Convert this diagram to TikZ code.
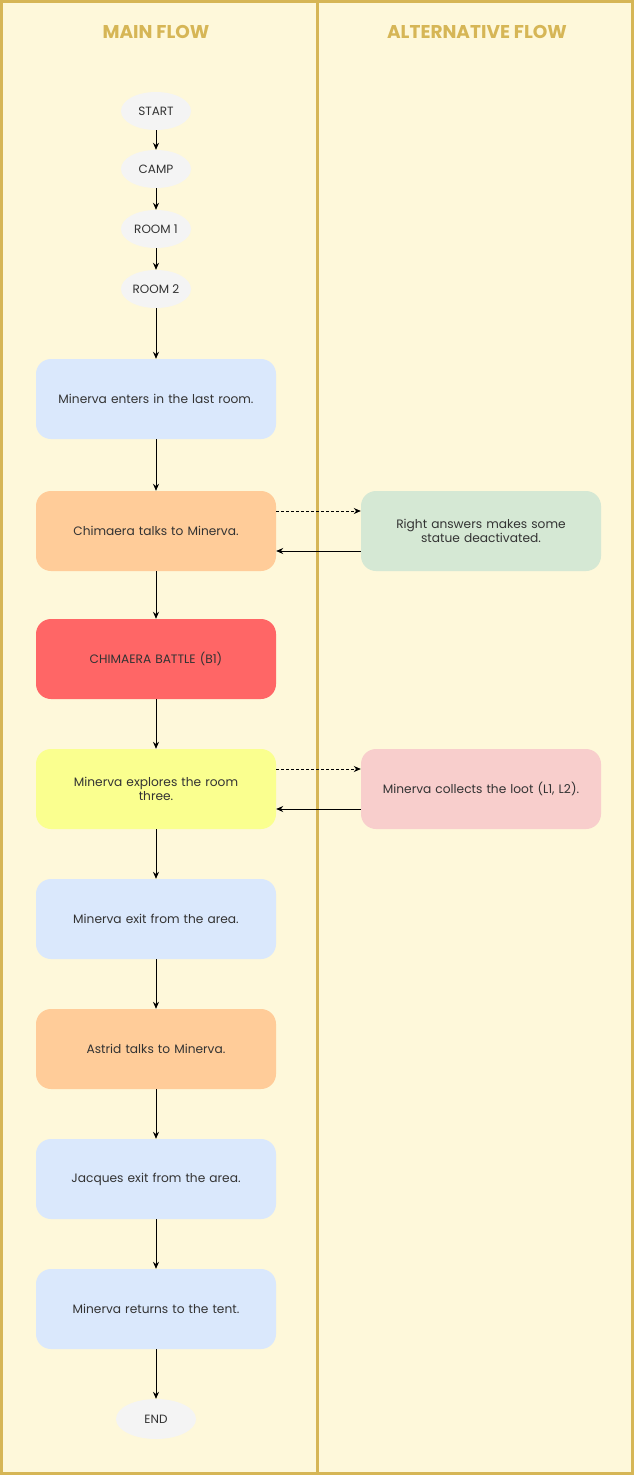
\documentclass[tikz,border=0pt]{standalone}
\usepackage{fontspec}
\setmainfont{Poppins}
\usetikzlibrary{arrows.meta,shapes.geometric}
\definecolor{lanefill}{HTML}{FEF8DA}
\definecolor{lanestroke}{HTML}{D6B656}
\definecolor{cblue}{HTML}{DAE8FC}
\definecolor{corange}{HTML}{FFCC99}
\definecolor{cred}{HTML}{FF6666}
\definecolor{cyellow}{HTML}{FAFF8F}
\definecolor{cgreen}{HTML}{D5E8D4}
\definecolor{cpink}{HTML}{F8CECC}
\definecolor{cgray}{HTML}{F4F4F4}
\definecolor{txt}{HTML}{333333}
\tikzset{
  x=1pt,y=-1pt,
  term/.style={ellipse,fill=cgray,draw=none,minimum width=70pt,minimum height=38pt,inner sep=0pt,font=\fontsize{12}{14}\selectfont,text=txt},
  box/.style={rectangle,rounded corners=15pt,draw=none,minimum width=240pt,minimum height=80pt,text width=226pt,align=center,font=\fontsize{12.2}{13.5}\selectfont,text=txt},
  arr/.style={-{Stealth[length=7pt,width=6pt]},line width=0.8pt,black},
  dash arr/.style={arr,dash pattern=on 2.5pt off 2.5pt},
  lanehead/.style={font=\fontsize{18.5}{22}\selectfont\bfseries,text=lanestroke}
}
\begin{document}
\begin{tikzpicture}
\useasboundingbox (0,0) rectangle (634,1475);
\fill[lanefill] (0,0) rectangle (634,1475);
\draw[lanestroke,line width=3pt] (1.5,1.5) rectangle (632.5,1473.5);
\draw[lanestroke,line width=3pt] (317,1.5) -- (317,1473.5);
\node[lanehead] (h1) at (156,32) {MAIN FLOW};
\node[lanehead] (h2) at (477,32) {ALTERNATIVE FLOW};

\node[term] (start) at (156,111) {START};
\node[term] (camp) at (156,169) {CAMP};
\node[term] (r1) at (156,229) {ROOM 1};
\node[term] (r2) at (156,289) {ROOM 2};

\node[box,fill=cblue] (b1) at (156,399) {Minerva enters in the last room.};
\node[box,fill=corange] (b2) at (156,531) {Chimaera talks to Minerva.};
\node[box,fill=cred] (b3) at (156,659) {CHIMAERA BATTLE (B1)};
\node[box,fill=cyellow] (b4) at (156,789) {Minerva explores the room\\three.};
\node[box,fill=cblue] (b5) at (156,919) {Minerva exit from the area.};
\node[box,fill=corange] (b6) at (156,1049) {Astrid talks to Minerva.};
\node[box,fill=cblue] (b7) at (156,1179) {Jacques exit from the area.};
\node[box,fill=cblue] (b8) at (156,1309) {Minerva returns to the tent.};
\node[term,minimum width=80pt,minimum height=40pt] (end) at (156,1419) {END};

\node[box,fill=cgreen] (a1) at (481,531) {Right answers makes some\\statue deactivated.};
\node[box,fill=cpink] (a2) at (481,789) {Minerva collects the loot (L1, L2).};

\draw[arr] (start) -- (camp);
\draw[arr] (camp) -- (r1);
\draw[arr] (r1) -- (r2);
\draw[arr] (r2) -- (b1);
\draw[arr] (b1) -- (b2);
\draw[arr] (b2) -- (b3);
\draw[arr] (b3) -- (b4);
\draw[arr] (b4) -- (b5);
\draw[arr] (b5) -- (b6);
\draw[arr] (b6) -- (b7);
\draw[arr] (b7) -- (b8);
\draw[arr] (b8) -- (end);

\draw[dash arr] ([yshift=20pt]b2.east) -- ([yshift=20pt]a1.west);
\draw[arr] ([yshift=-20pt]a1.west) -- ([yshift=-20pt]b2.east);
\draw[dash arr] ([yshift=20pt]b4.east) -- ([yshift=20pt]a2.west);
\draw[arr] ([yshift=-20pt]a2.west) -- ([yshift=-20pt]b4.east);
\end{tikzpicture}
\end{document}
